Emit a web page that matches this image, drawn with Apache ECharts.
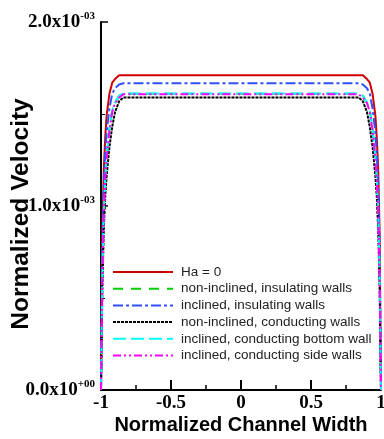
<!DOCTYPE html>
<html>
<head>
<meta charset="utf-8">
<script src="https://cdn.jsdelivr.net/npm/echarts@6/dist/echarts.min.js"></script>
<style>html,body{margin:0;padding:0;background:#fff}#c{width:384px;height:439px}</style>
</head>
<body>
<div id="c"></div>
<script>
// Normalized channel width positions
const xPos = [-1, -0.99, -0.98, -0.97, -0.96, -0.94, -0.92, -0.9, -0.87, -0.84, -0.5, 0, 0.5, 0.84, 0.87, 0.9, 0.92, 0.94, 0.96, 0.97, 0.98, 0.99, 1];
// Normalized velocity values (x1e-3)
const ha0 = [0, 0.86, 1.20, 1.37, 1.49, 1.61, 1.67, 1.69, 1.71, 1.71, 1.71, 1.71, 1.71, 1.71, 1.71, 1.69, 1.67, 1.61, 1.49, 1.37, 1.20, 0.86, 0];
const nonInclInsul = [0, 0.64, 0.97, 1.14, 1.26, 1.42, 1.52, 1.56, 1.60, 1.61, 1.61, 1.61, 1.61, 1.61, 1.60, 1.56, 1.52, 1.42, 1.26, 1.14, 0.97, 0.64, 0];
const inclInsul = [0, 0.78, 1.12, 1.28, 1.40, 1.53, 1.61, 1.64, 1.66, 1.667, 1.667, 1.667, 1.667, 1.667, 1.66, 1.64, 1.61, 1.53, 1.40, 1.28, 1.12, 0.78, 0];
const nonInclCond = [0, 0.56, 0.87, 1.05, 1.16, 1.32, 1.43, 1.51, 1.57, 1.59, 1.59, 1.59, 1.59, 1.59, 1.57, 1.51, 1.43, 1.32, 1.16, 1.05, 0.87, 0.56, 0];
const inclCondBottom = [0, 0.64, 0.97, 1.14, 1.26, 1.42, 1.52, 1.56, 1.60, 1.612, 1.612, 1.612, 1.612, 1.612, 1.60, 1.56, 1.52, 1.42, 1.26, 1.14, 0.97, 0.64, 0];
const inclCondSide = [0, 0.64, 0.96, 1.14, 1.25, 1.41, 1.51, 1.56, 1.59, 1.607, 1.607, 1.607, 1.607, 1.607, 1.59, 1.56, 1.51, 1.41, 1.25, 1.14, 0.96, 0.64, 0];
const seriesNames = ['Ha = 0', 'non-inclined, insulating walls', 'inclined, insulating walls', 'non-inclined, conducting walls', 'inclined, conducting bottom wall', 'inclined, conducting side walls'];
// Y tick labels
const yTickValues = [0, 0.001, 0.002];
const yTickMain = ['0.0x10', '1.0x10', '2.0x10'];
const yTickSup = ['+00', '-03', '-03'];

const valueSets = [ha0, nonInclInsul, inclInsul, nonInclCond, inclCondBottom, inclCondSide];
const colors = ['#d00000', '#00d000', '#3050ff', '#000000', '#00ffff', '#ff00ff'];
const dashes = ['solid', [10, 8], [10, 3, 3, 3], [3, 1], [13, 5], [8, 3, 2, 3, 2, 3]];

const series = valueSets.map((vals, i) => ({
  name: seriesNames[i],
  type: 'line',
  symbol: 'none',
  smooth: false,
  data: xPos.map((x, j) => [x, vals[j] * 1e-3]),
  lineStyle: { color: colors[i], width: 2, type: dashes[i] },
  itemStyle: { color: colors[i] },
  z: 2 + i
}));

const chart = echarts.init(document.getElementById('c'), null, { renderer: 'canvas' });
chart.setOption({
  animation: false,
  backgroundColor: '#fff',
  grid: { left: 101, right: 3, top: 22, bottom: 49, containLabel: false, outerBoundsMode: 'none' },
  legend: {
    orient: 'vertical',
    left: 112,
    top: 265,
    itemWidth: 60,
    itemHeight: 14,
    itemGap: 2.7,
    padding: 0,
    data: seriesNames,
    itemStyle: { opacity: 0 },
    textStyle: { fontFamily: 'Liberation Sans', fontSize: 13.5, color: '#222', padding: [0, 0, 0, 3] }
  },
  xAxis: {
    type: 'value',
    min: -1, max: 1, interval: 0.5,
    name: 'Normalized Channel Width',
    nameLocation: 'middle',
    nameGap: 25,
    nameMoveOverlap: false,
    nameTextStyle: { fontFamily: 'Liberation Sans', fontWeight: 'bold', fontSize: 20, color: '#000' },
    axisLine: { show: true, onZero: false, lineStyle: { color: '#000', width: 2 } },
    axisTick: { show: true, inside: true, length: 10, lineStyle: { color: '#000', width: 2 } },
    minorTick: { show: true, splitNumber: 2, length: 5, lineStyle: { color: '#000', width: 1.5 } },
    axisLabel: { margin: 4, fontFamily: 'Liberation Serif', fontWeight: 'bold', fontSize: 19, color: '#000' },
    splitLine: { show: false }
  },
  yAxis: {
    type: 'value',
    min: 0, max: 0.002, interval: 0.001,
    name: 'Normalized Velocity',
    nameLocation: 'middle',
    nameGap: 67,
    nameMoveOverlap: false,
    nameTextStyle: { fontFamily: 'Liberation Sans', fontWeight: 'bold', fontSize: 24.5, color: '#000', padding: [0, 16, 0, 0] },
    axisLine: { show: true, onZero: false, lineStyle: { color: '#000', width: 2 } },
    axisTick: { show: true, inside: true, length: 7, lineStyle: { color: '#000', width: 1.5 } },
    minorTick: { show: true, splitNumber: 2, length: 4, lineStyle: { color: '#000', width: 1 } },
    axisLabel: {
      margin: 6,
      formatter: function (v) {
        let k = yTickValues.findIndex(t => Math.abs(t - v) < 1e-9);
        if (k < 0) return '';
        return '{m|' + yTickMain[k] + '}{s|' + yTickSup[k] + '}';
      },
      rich: {
        m: { fontFamily: 'Liberation Serif', fontWeight: 'bold', fontSize: 19, color: '#000', lineHeight: 22 },
        s: { fontFamily: 'Liberation Serif', fontWeight: 'bold', fontSize: 11, color: '#000', verticalAlign: 'top', lineHeight: 22, padding: [0, 0, 10, 0] }
      }
    },
    splitLine: { show: false }
  },
  series: series
});
</script>
</body>
</html>
